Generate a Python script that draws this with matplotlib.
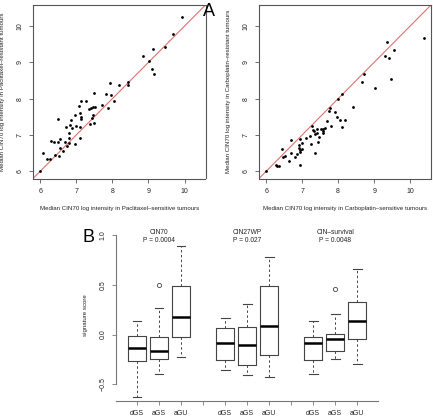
import matplotlib
matplotlib.use("Agg")
import matplotlib.pyplot as plt
import numpy as np

plt.rcParams['font.family'] = ['Liberation Sans', 'DejaVu Sans']

# Panel A left: Paclitaxel
pac_sens = [6.00, 6.07, 6.20, 6.28, 6.31, 6.37, 6.42, 6.50, 6.50, 6.51, 6.55, 6.56, 6.63, 6.69,
            6.72, 6.74, 6.80, 6.80, 6.81, 6.83, 6.86, 6.88, 6.95, 6.97, 6.99, 7.07, 7.09, 7.10,
            7.10, 7.13, 7.14, 7.14, 7.27, 7.36, 7.37, 7.41, 7.45, 7.44, 7.46, 7.48, 7.49, 7.51,
            7.71, 7.83, 7.88, 7.92, 7.97, 8.05, 8.18, 8.42, 8.44, 8.86, 9.01, 9.09, 9.12, 9.15,
            9.45, 9.69, 9.93]
pac_res = [6.00, 6.51, 6.35, 6.35, 6.82, 6.80, 6.45, 6.80, 7.45, 6.42, 6.63, 6.89, 6.57, 6.81,
           7.22, 6.69, 6.79, 6.92, 7.04, 7.27, 7.41, 7.19, 7.56, 6.74, 7.26, 7.80, 7.23, 6.91,
           7.61, 7.49, 7.44, 7.94, 7.93, 7.72, 7.30, 7.75, 7.56, 7.48, 7.77, 8.15, 7.32, 7.77,
           7.83, 8.13, 7.74, 8.44, 8.09, 7.94, 8.38, 8.38, 8.46, 9.18, 9.04, 8.83, 9.36, 8.68,
           9.42, 9.79, 10.25]

# Panel A right: Carboplatin
carb_sens = [6.00, 6.27, 6.31, 6.36, 6.44, 6.47, 6.52, 6.64, 6.69, 6.70, 6.81, 6.85, 6.91, 6.92,
             6.94, 6.94, 6.94, 6.95, 6.99, 7.00, 7.11, 7.22, 7.25, 7.27, 7.31, 7.34, 7.36, 7.35,
             7.40, 7.42, 7.44, 7.47, 7.51, 7.57, 7.59, 7.58, 7.64, 7.69, 7.75, 7.77, 7.81, 7.91,
             7.97, 7.99, 8.05, 8.10, 8.12, 8.19, 8.40, 8.66, 8.73, 9.03, 9.29, 9.37, 9.40, 9.48,
             9.56, 10.38]
carb_res = [6.00, 6.18, 6.14, 6.15, 6.62, 6.38, 6.42, 6.29, 6.86, 6.50, 6.38, 6.48, 6.72, 6.65,
            6.90, 6.54, 6.18, 6.59, 6.60, 6.77, 6.92, 6.96, 6.76, 7.24, 7.14, 7.10, 7.03, 6.49,
            7.15, 7.05, 6.81, 6.94, 7.17, 7.11, 7.15, 7.06, 7.19, 7.38, 7.65, 7.74, 7.26, 7.63,
            7.49, 8.00, 7.40, 7.23, 8.12, 7.41, 7.77, 8.45, 8.69, 8.28, 9.18, 9.55, 9.11, 8.53,
            9.33, 9.67]

# Panel B: boxplot summaries (whislo, q1, med, q3, whishi, outliers)
groups = ["dGS", "aGS", "aGU"]
signatures = ["CIN70", "CIN27WP", "CIN\u2013survival"]
pvalues = ["P = 0.0004", "P = 0.027", "P = 0.0048"]
cin70 = [(-0.632, -0.267, -0.139, -0.017, 0.139, []),
         (-0.399, -0.243, -0.166, -0.024, 0.267, [0.50]),
         (-0.223, -0.024, 0.176, 0.490, 0.889, [])]
cin27wp = [(-0.358, -0.253, -0.088, 0.068, 0.166, []),
           (-0.412, -0.307, -0.108, 0.078, 0.311, []),
           (-0.429, -0.203, 0.084, 0.486, 0.777, [])]
cinsurv = [(-0.399, -0.257, -0.081, -0.024, 0.139, []),
           (-0.243, -0.162, -0.044, 0.007, 0.209, [0.463]),
           (-0.294, -0.044, 0.132, 0.331, 0.662, [])]

W, H = 433, 416
fig = plt.figure(figsize=(W / 100, H / 100), dpi=100)

frame_col = '#555555'
text_col = '#222222'
fs_tick = 5.0
fs_lab = 4.4

def scatter_panel(rect, xs, ys, xlabel, ylabel):
    ax = fig.add_axes(rect)
    lim = (5.8, 10.58)
    ax.plot(lim, lim, color='#e07070', lw=0.8, zorder=1)
    ax.scatter(xs, ys, s=4, color='black', zorder=2, linewidths=0)
    ax.set_xlim(lim)
    ax.set_ylim(lim)
    ax.set_xticks([6, 7, 8, 9, 10])
    ax.set_yticks([6, 7, 8, 9, 10])
    for s in ax.spines.values():
        s.set_color(frame_col)
        s.set_linewidth(0.8)
    ax.tick_params(direction='out', length=3, width=0.6, colors=frame_col,
                   labelsize=fs_tick, labelcolor=text_col, pad=4)
    for lbl in ax.get_yticklabels():
        lbl.set_rotation(90)
        lbl.set_va('center')
    ax.set_xlabel(xlabel, fontsize=fs_lab, color=text_col, labelpad=8)
    ax.set_ylabel(ylabel, fontsize=fs_lab, color=text_col, labelpad=8)
    return ax

ax1 = scatter_panel([33 / W, 1 - 178.5 / H, 172.5 / W, 173.5 / H], pac_sens, pac_res,
                    'Median CIN70 log intensity in Paclitaxel\u2013sensitive tumours',
                    'Median CIN70 log intensity in Paclitaxel\u2013resistant tumours')
ax2 = scatter_panel([259 / W, 1 - 178.5 / H, 172 / W, 173.5 / H], carb_sens, carb_res,
                    'Median CIN70 log intensity in Carboplatin\u2013sensitive tumours',
                    'Median CIN70 log intensity in Carboplatin\u2013resistant tumours')

fig.text(209 / W, 1 - 12 / H, 'A', fontsize=13, ha='center', va='center', color='black')
fig.text(89 / W, 1 - 237 / H, 'B', fontsize=13, ha='center', va='center', color='black')

# Panel B
axb = fig.add_axes([116.3 / W, 1 - 400.5 / H, 261.7 / W, 171.5 / H])
all_sets = [cin70, cin27wp, cinsurv]
stats = []
positions = []
for gi, data in enumerate(all_sets):
    for bi, (lo, q1, med, q3, hi, fl) in enumerate(data):
        stats.append(dict(whislo=lo, q1=q1, med=med, q3=q3, whishi=hi, fliers=fl,
                          label=groups[bi]))
        positions.append(gi * 4 + bi + 1)

axb.bxp(stats, positions=positions, widths=0.8, showfliers=True,
        boxprops=dict(color='#444444', linewidth=0.8),
        whiskerprops=dict(color='#444444', linewidth=0.7, linestyle=(0, (2.5, 2.5))),
        capprops=dict(color='#444444', linewidth=0.8),
        medianprops=dict(color='black', linewidth=1.8),
        flierprops=dict(marker='o', markersize=3, markerfacecolor='none',
                        markeredgecolor='#444444', markeredgewidth=0.6),
        capwidths=0.4)

axb.set_xlim(0.06, 11.94)
axb.set_ylim(-0.664, 1.064)
tick_pos = list(range(1, 12))
tick_lab = []
for p in tick_pos:
    if p % 4 == 0:
        tick_lab.append('')
    else:
        tick_lab.append(groups[(p - 1) % 4])
axb.set_xticks(tick_pos)
axb.set_xticklabels(tick_lab)
axb.set_yticks([-0.5, 0.0, 0.5, 1.0])
axb.set_yticklabels(['\u22120.5', '0.0', '0.5', '1.0'])
for lbl in axb.get_yticklabels():
    lbl.set_rotation(90)
    lbl.set_va('center')
axb.spines['top'].set_visible(False)
axb.spines['right'].set_visible(False)
axb.spines['left'].set_bounds(-0.5, 1.0)
for s in ['left', 'bottom']:
    axb.spines[s].set_color('#777777')
    axb.spines[s].set_linewidth(0.8)
axb.tick_params(direction='out', length=3, width=0.6, colors='#777777',
                labelsize=fs_tick, labelcolor=text_col, pad=4)
axb.set_ylabel('signature score', fontsize=fs_lab, color=text_col, labelpad=8)

for gi in range(3):
    xc = gi * 4 + 2
    axb.text(xc, 1.03, signatures[gi], fontsize=fs_lab + 0.4, ha='center', va='center', color=text_col)
    axb.text(xc, 0.95, pvalues[gi], fontsize=fs_lab + 0.4, ha='center', va='center', color=text_col)

fig.savefig('out.png', dpi=100)
